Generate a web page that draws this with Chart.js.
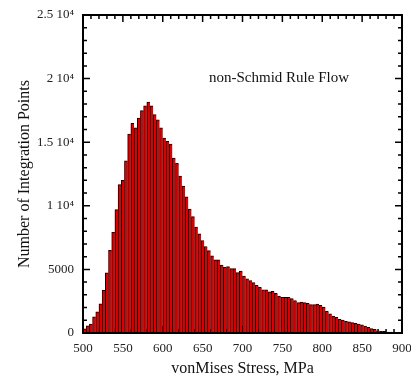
<!DOCTYPE html>
<html>
<head>
<meta charset="utf-8">
<script src="https://cdn.jsdelivr.net/npm/chart.js@4/dist/chart.umd.min.js"></script>
<style>
  html, body { margin: 0; padding: 0; background: #fff; }
  #wrap { width: 411px; height: 377px; }
</style>
</head>
<body>
<div id="wrap"><canvas id="c" width="411" height="377"></canvas></div>
<script>
// ---- data ----
const binStart = 500;      // MPa, left edge of first bin
const binWidth = 4;        // MPa
const counts = [
  330, 570, 700, 1270, 1670, 2300, 3350, 4730, 6500, 7920,
  9700, 11660, 12010, 13540, 15640, 16480, 16120, 16900, 17480, 17850,
  18160, 17850, 17170, 16750, 16120, 15330, 15070, 14860, 13760, 13330,
  12340, 11550, 10710, 9750, 9150, 8320, 7800, 7270, 6800, 6480,
  6060, 5750, 5750, 5330, 5170, 5220, 5060, 5060, 4750, 4860,
  4470, 4260, 4120, 3960, 3750, 3600, 3390, 3390, 3230, 3280,
  3120, 2910, 2810, 2810, 2810, 2700, 2540, 2390, 2440, 2390,
  2330, 2230, 2230, 2280, 2180, 2040, 1710, 1500, 1340, 1240,
  1080, 1020, 920, 870, 810, 760, 710, 650, 550, 450,
  340, 290, 180, 130, 130, 80, 80, 40, 20, 0
];
const binCenters = counts.map((_, i) => binStart + binWidth * (i + 0.5));

const xTickValues = [500, 550, 600, 650, 700, 750, 800, 850, 900];
const yTickValues = [0, 5000, 10000, 15000, 20000, 25000];
const yTickLabels = ['0', '5000', '1 10\u2074', '1.5 10\u2074', '2 10\u2074', '2.5 10\u2074'];
const xTitle = 'vonMises Stress, MPa';
const yTitle = 'Number of Integration Points';
const annotation = 'non-Schmid Rule Flow';

const SERIF = '"Liberation Serif", "Times New Roman", serif';

const framePlugin = {
  id: 'frame',
  beforeDatasetsDraw(chart) {
    const { ctx, chartArea: a, scales: { x, y } } = chart;
    ctx.save();
    ctx.strokeStyle = '#000';
    ctx.lineWidth = 1.5;
    ctx.beginPath();
    for (let v = 500; v <= 900; v += 10) {
      const px = x.getPixelForValue(v);
      const len = (v % 50 === 0) ? 7 : 4;
      ctx.moveTo(px, a.bottom); ctx.lineTo(px, a.bottom - len);
      ctx.moveTo(px, a.top); ctx.lineTo(px, a.top + len);
    }
    for (let v = 0; v <= 25000; v += 1000) {
      const py = y.getPixelForValue(v);
      const len = (v % 5000 === 0) ? 7 : 4;
      ctx.moveTo(a.left, py); ctx.lineTo(a.left + len, py);
      ctx.moveTo(a.right, py); ctx.lineTo(a.right - len, py);
    }
    ctx.stroke();
    ctx.restore();
  },
  afterDatasetsDraw(chart) {
    const { ctx, chartArea: a } = chart;
    ctx.save();
    ctx.strokeStyle = '#000';
    ctx.lineWidth = 2;
    ctx.strokeRect(a.left, a.top, a.right - a.left, a.bottom - a.top);
    ctx.fillStyle = '#111';
    ctx.font = '15px ' + SERIF;
    ctx.textAlign = 'center';
    ctx.textBaseline = 'middle';
    ctx.fillText(annotation, 279, 78);
    ctx.restore();
  }
};

new Chart(document.getElementById('c'), {
  type: 'bar',
  data: {
    datasets: [{
      data: binCenters.map((c, i) => ({ x: c, y: counts[i] })),
      backgroundColor: '#dc0000',
      borderColor: '#000',
      borderWidth: { left: 1, top: 1, right: 0, bottom: 0 },
      borderSkipped: false,
      barPercentage: 1,
      categoryPercentage: 1
    }]
  },
  options: {
    responsive: false,
    animation: false,
    devicePixelRatio: 1,
    layout: { padding: { left: 0, top: 15, right: 9, bottom: 0 } },
    plugins: { legend: { display: false }, tooltip: { enabled: false } },
    scales: {
      x: {
        type: 'linear',
        offset: false,
        min: 500, max: 900,
        grid: { display: false, drawTicks: false, offset: false },
        border: { display: false },
        afterBuildTicks(s) { s.ticks = xTickValues.map(v => ({ value: v })); },
        afterFit(s) { s.height = 44; s.paddingLeft = 0; s.paddingRight = 0; },
        ticks: {
          color: '#222',
          font: { family: SERIF, size: 13 },
          padding: 8,
          maxRotation: 0,
          autoSkip: false,
          callback: v => String(v)
        },
        title: {
          display: true, text: xTitle, color: '#111',
          font: { family: SERIF, size: 16, lineHeight: 1 },
          padding: { top: 0, bottom: 0 }
        }
      },
      y: {
        min: 0, max: 25000,
        grid: { display: false, drawTicks: false },
        border: { display: false },
        afterBuildTicks(s) { s.ticks = yTickValues.map(v => ({ value: v })); },
        afterFit(s) { s.width = 83; s.paddingTop = 0; s.paddingBottom = 0; },
        ticks: {
          color: '#222',
          font: { family: SERIF, size: 13 },
          padding: 9,
          autoSkip: false,
          callback: v => { const i = yTickValues.indexOf(v); return i >= 0 ? yTickLabels[i] : ''; }
        },
        title: {
          display: true, text: yTitle, color: '#111',
          font: { family: SERIF, size: 16, lineHeight: 1 },
          padding: { top: 17, bottom: 0 }
        }
      }
    }
  },
  plugins: [framePlugin]
});
</script>
</body>
</html>
